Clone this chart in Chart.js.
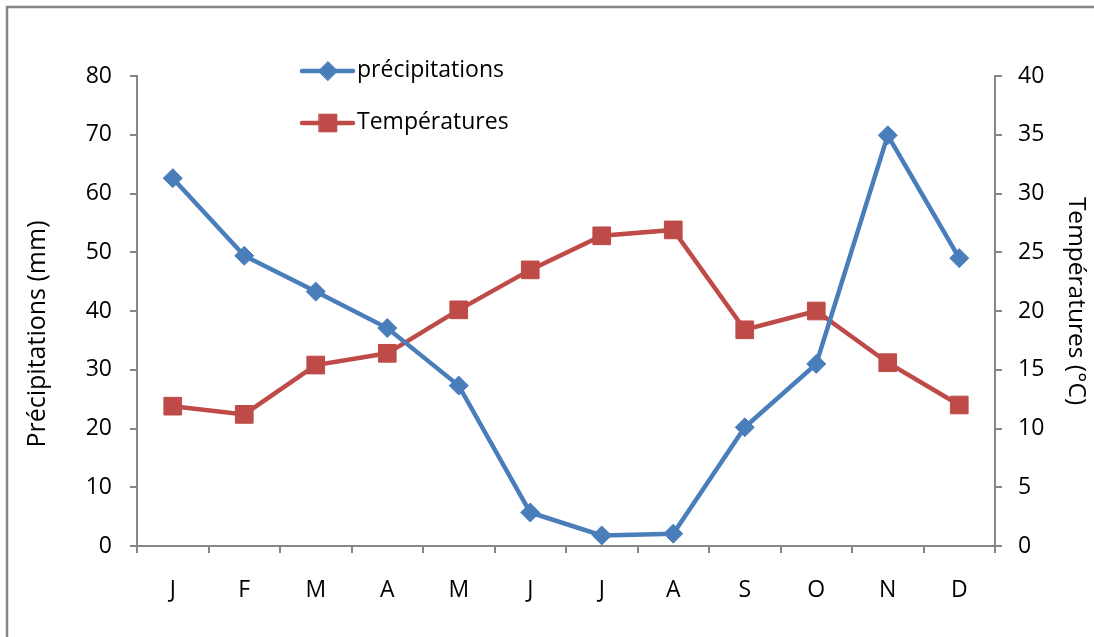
<!DOCTYPE html>
<html>
<head>
<meta charset="utf-8">
<script src="https://cdn.jsdelivr.net/npm/chart.js@4/dist/chart.umd.min.js"></script>
<style>
  html, body { margin: 0; padding: 0; background: #ffffff; }
  #wrap { width: 1094px; height: 637px; }
</style>
</head>
<body>
<div id="wrap"><canvas id="climat" width="1094" height="637"></canvas></div>
<script>
// Monthly climate data
const months = ['J', 'F', 'M', 'A', 'M', 'J', 'J', 'A', 'S', 'O', 'N', 'D'];
const precipitations = [62.6, 49.4, 43.3, 37.1, 27.3, 5.7, 1.8, 2.1, 20.2, 31.0, 69.9, 49.0];
const temperatures = [11.9, 11.2, 15.4, 16.4, 20.1, 23.5, 26.4, 26.9, 18.4, 20.0, 15.6, 12.0];

// Axis ranges and labels
const precipAxis = { min: 0, max: 80, step: 10, title: 'Précipitations (mm)' };
const tempAxis = { min: 0, max: 40, step: 5, title: 'Températures (°C)' };
const seriesNames = ['précipitations', 'Températures'];

const BLUE = '#4A7EBB';
const RED = '#BE4B48';
const GREY = '#868686';
const FAMILY = "'Open Sans', sans-serif";
const tickFont = { family: FAMILY, size: 23 };

// Outer frame around the chart
const framePlugin = {
  id: 'frame',
  beforeDraw(chart) {
    const ctx = chart.ctx;
    ctx.save();
    ctx.strokeStyle = GREY;
    ctx.lineWidth = 2.5;
    ctx.beginPath();
    ctx.moveTo(chart.width, 7);
    ctx.lineTo(7, 7);
    ctx.lineTo(7, chart.height);
    ctx.stroke();
    ctx.restore();
  }
};

// Rotated axis titles
function drawRotated(ctx, text, x, y, angle, size) {
  ctx.save();
  ctx.fillStyle = '#000';
  ctx.textAlign = 'center';
  ctx.textBaseline = 'middle';
  ctx.font = size + 'px ' + FAMILY;
  ctx.translate(x, y);
  ctx.rotate(angle);
  ctx.fillText(text, 0, 0);
  ctx.restore();
}

const titlesPlugin = {
  id: 'axisTitles',
  afterDraw(chart) {
    drawRotated(chart.ctx, precipAxis.title, 38, 334, -Math.PI / 2, 25);
    drawRotated(chart.ctx, tempAxis.title, 1076, 301, Math.PI / 2, 24.5);
  }
};

// Legend drawn inside the plot, line + marker + label
function drawMarker(ctx, style, x, y, r, fill, stroke) {
  ctx.beginPath();
  if (style === 'rectRot') {
    ctx.moveTo(x - r, y);
    ctx.lineTo(x, y - r);
    ctx.lineTo(x + r, y);
    ctx.lineTo(x, y + r);
    ctx.closePath();
  } else {
    const s = Math.SQRT1_2 * r;
    ctx.rect(x - s, y - s, 2 * s, 2 * s);
  }
  ctx.fillStyle = fill;
  ctx.fill();
  ctx.lineWidth = 1;
  ctx.strokeStyle = stroke;
  ctx.stroke();
}

const legendPlugin = {
  id: 'insideLegend',
  afterDraw(chart) {
    const ctx = chart.ctx;
    const rows = [71, 123];
    chart.data.datasets.forEach((ds, i) => {
      const y = rows[i];
      ctx.save();
      ctx.strokeStyle = ds.borderColor;
      ctx.lineWidth = ds.borderWidth;
      ctx.lineCap = 'round';
      ctx.beginPath();
      ctx.moveTo(302, y);
      ctx.lineTo(353, y);
      ctx.stroke();
      drawMarker(ctx, ds.pointStyle, 328, y, ds.pointRadius, ds.backgroundColor, ds.borderColor);
      ctx.fillStyle = '#000';
      ctx.font = '23px ' + FAMILY;
      ctx.textAlign = 'left';
      ctx.textBaseline = 'middle';
      ctx.fillText(ds.label, 357, y - 1);
      ctx.restore();
    });
  }
};

const axisGrid = { display: true, drawOnChartArea: false, color: GREY, lineWidth: 2, tickLength: 7 };
const axisBorder = { display: true, color: GREY, width: 2 };

new Chart(document.getElementById('climat'), {
  type: 'line',
  data: {
    labels: months,
    datasets: [
      {
        label: seriesNames[0],
        data: precipitations,
        yAxisID: 'y',
        borderColor: BLUE,
        backgroundColor: BLUE,
        borderWidth: 4.5,
        pointStyle: 'rectRot',
        pointRadius: 9.5,
        pointHoverRadius: 9.5,
        pointBorderWidth: 1,
        tension: 0
      },
      {
        label: seriesNames[1],
        data: temperatures,
        yAxisID: 'y1',
        borderColor: RED,
        backgroundColor: RED,
        borderWidth: 4.5,
        pointStyle: 'rect',
        pointRadius: 12.5,
        pointHoverRadius: 12.5,
        pointBorderWidth: 1,
        tension: 0
      }
    ]
  },
  options: {
    responsive: false,
    animation: false,
    devicePixelRatio: 1,
    events: [],
    layout: { padding: { top: 76, left: 0, right: 0, bottom: 0 } },
    plugins: { legend: { display: false }, tooltip: { enabled: false } },
    scales: {
      x: {
        offset: true,
        grid: Object.assign({}, axisGrid, { offset: true }),
        border: axisBorder,
        ticks: { font: tickFont, color: '#000', padding: 24, maxRotation: 0, autoSkip: false },
        afterFit(scale) { scale.height = 91; }
      },
      y: {
        position: 'left',
        min: precipAxis.min,
        max: precipAxis.max,
        grid: axisGrid,
        border: axisBorder,
        ticks: { stepSize: precipAxis.step, font: tickFont, color: '#000', padding: 18 },
        afterFit(scale) { scale.width = 137; }
      },
      y1: {
        position: 'right',
        min: tempAxis.min,
        max: tempAxis.max,
        grid: axisGrid,
        border: axisBorder,
        ticks: { stepSize: tempAxis.step, font: tickFont, color: '#000', padding: 16 },
        afterFit(scale) { scale.width = 99; }
      }
    }
  },
  plugins: [framePlugin, titlesPlugin, legendPlugin]
});
</script>
</body>
</html>
